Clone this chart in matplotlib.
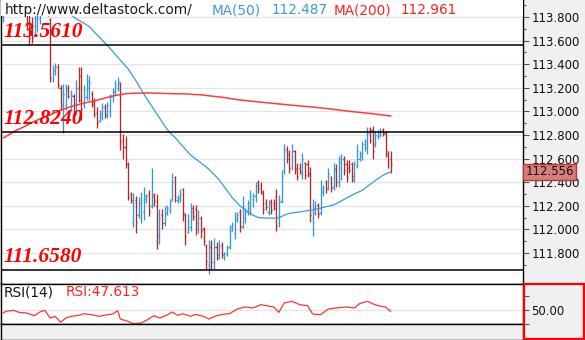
import matplotlib
matplotlib.use("Agg")
import matplotlib.pyplot as plt
from matplotlib.collections import LineCollection
from matplotlib.patches import Rectangle
from matplotlib.transforms import blended_transform_factory, offset_copy

W, H, DPI = 585, 340, 100

# ---- OHLC bars -------------------------------------------------------------
opens = [113.80, 113.90, 113.95, 113.92, 113.98, 114.02, 113.96, 113.93, 113.97, 113.88,
         113.76, 113.74, 113.64, 113.72, 113.78, 113.86, 113.94, 113.88, 113.78, 113.27,
         113.34, 113.38, 113.20, 112.90, 113.05, 113.20, 113.02, 113.13, 113.00, 113.20,
         113.30, 113.05, 113.12, 113.20, 113.15, 113.08, 112.99, 112.92, 112.95, 113.04,
         112.97, 113.00, 113.13, 113.16, 113.20, 113.24, 112.76, 112.70, 112.55, 112.30,
         112.05, 112.25, 112.12, 112.10, 112.15, 112.26, 112.30, 112.20, 112.29, 112.20,
         111.95, 112.12, 112.05, 112.13, 112.16, 112.26, 112.44, 112.25, 112.26, 112.34,
         112.12, 111.98, 112.02, 112.18, 112.17, 112.00, 112.10, 112.00, 111.86, 111.70,
         111.85, 111.72, 111.85, 111.76, 111.87, 111.78, 111.79, 111.85, 112.02, 111.97,
         112.08, 112.15, 112.02, 112.10, 112.15, 112.18, 112.26, 112.28, 112.40, 112.38,
         112.30, 112.22, 112.15, 112.24, 112.22, 112.28, 112.05, 112.24, 112.50, 112.68,
         112.64, 112.53, 112.66, 112.52, 112.52, 112.46, 112.56, 112.55, 112.48, 112.10,
         112.14, 112.21, 112.14, 112.32, 112.40, 112.35, 112.44, 112.36, 112.52, 112.40,
         112.52, 112.60, 112.55, 112.52, 112.55, 112.42, 112.54, 112.60, 112.62, 112.72,
         112.70, 112.85, 112.84, 112.72, 112.79, 112.80, 112.84, 112.82, 112.64, 112.60]
highs = [113.95, 114.00, 114.05, 114.02, 114.08, 114.10, 114.05, 114.02, 114.04, 113.95,
         113.90, 113.80, 113.86, 113.84, 113.92, 113.98, 114.00, 113.95, 113.79, 113.39,
         113.41, 113.40, 113.22, 113.23, 113.23, 113.22, 113.18, 113.15, 113.27, 113.38,
         113.38, 113.22, 113.32, 113.30, 113.17, 113.11, 113.04, 113.01, 113.07, 113.06,
         113.08, 113.15, 113.20, 113.27, 113.29, 113.25, 112.81, 112.79, 112.57, 112.32,
         112.31, 112.28, 112.27, 112.32, 112.36, 112.30, 112.33, 112.52, 112.31, 112.30,
         112.17, 112.17, 112.20, 112.21, 112.26, 112.48, 112.45, 112.29, 112.34, 112.35,
         112.14, 112.13, 112.22, 112.21, 112.21, 112.16, 112.11, 112.02, 111.88, 111.91,
         111.91, 111.93, 111.89, 111.91, 111.89, 111.81, 111.87, 112.04, 112.06, 112.15,
         112.15, 112.17, 112.28, 112.18, 112.25, 112.33, 112.31, 112.40, 112.42, 112.40,
         112.33, 112.26, 112.25, 112.26, 112.26, 112.34, 112.29, 112.50, 112.72, 112.71,
         112.67, 112.72, 112.67, 112.56, 112.56, 112.65, 112.57, 112.59, 112.53, 112.26,
         112.24, 112.22, 112.42, 112.38, 112.42, 112.52, 112.45, 112.56, 112.55, 112.62,
         112.64, 112.62, 112.59, 112.59, 112.57, 112.58, 112.72, 112.66, 112.75, 112.77,
         112.87, 112.87, 112.88, 112.83, 112.84, 112.86, 112.86, 112.83, 112.66, 112.66]
lows = [113.76, 113.84, 113.88, 113.85, 113.90, 113.92, 113.88, 113.86, 113.83, 113.69,
        113.56, 113.58, 113.64, 113.67, 113.74, 113.82, 113.82, 113.81, 113.25, 113.25,
        113.31, 113.20, 113.01, 112.82, 113.01, 113.11, 113.00, 112.95, 112.97, 113.08,
        112.93, 113.03, 113.10, 113.10, 113.04, 112.95, 112.86, 112.91, 112.93, 112.94,
        112.94, 112.95, 113.08, 113.14, 113.17, 112.67, 112.60, 112.52, 112.25, 112.22,
        112.02, 111.97, 112.10, 112.05, 112.08, 112.22, 112.11, 112.18, 112.20, 111.83,
        111.88, 112.00, 112.03, 112.12, 112.14, 112.24, 112.23, 112.22, 112.23, 112.07,
        111.87, 111.97, 111.99, 112.08, 111.95, 111.97, 111.93, 111.87, 111.66, 111.62,
        111.66, 111.66, 111.74, 111.75, 111.76, 111.74, 111.77, 111.83, 111.99, 111.92,
        112.06, 111.98, 112.01, 112.05, 112.12, 112.12, 112.19, 112.23, 112.31, 112.30,
        112.13, 112.16, 112.12, 112.13, 112.16, 111.99, 112.02, 112.22, 112.47, 112.56,
        112.48, 112.50, 112.47, 112.42, 112.47, 112.43, 112.43, 112.44, 112.06, 111.94,
        112.12, 112.10, 112.12, 112.28, 112.31, 112.33, 112.32, 112.33, 112.36, 112.36,
        112.42, 112.46, 112.40, 112.48, 112.40, 112.40, 112.52, 112.58, 112.59, 112.66,
        112.64, 112.73, 112.60, 112.70, 112.77, 112.78, 112.79, 112.61, 112.52, 112.48]
closes = [113.90, 113.95, 113.92, 113.98, 114.02, 113.96, 113.93, 113.97, 113.88, 113.74,
          113.62, 113.62, 113.78, 113.80, 113.88, 113.94, 113.86, 113.82, 113.28, 113.36,
          113.38, 113.22, 113.05, 113.15, 113.18, 113.13, 113.14, 112.99, 113.20, 113.10,
          113.02, 113.18, 113.26, 113.24, 113.06, 112.98, 112.90, 112.98, 113.04, 112.97,
          113.05, 113.12, 113.17, 113.22, 113.26, 112.74, 112.70, 112.55, 112.27, 112.25,
          112.22, 112.06, 112.22, 112.25, 112.29, 112.28, 112.15, 112.27, 112.24, 111.95,
          112.10, 112.05, 112.15, 112.18, 112.24, 112.40, 112.27, 112.27, 112.30, 112.14,
          111.94, 112.07, 112.15, 112.11, 112.05, 112.10, 111.99, 111.90, 111.73, 111.85,
          111.72, 111.85, 111.78, 111.86, 111.79, 111.80, 111.84, 111.99, 112.04, 112.10,
          112.12, 112.03, 112.20, 112.15, 112.22, 112.28, 112.29, 112.37, 112.35, 112.32,
          112.17, 112.19, 112.22, 112.16, 112.18, 112.03, 112.23, 112.45, 112.67, 112.60,
          112.52, 112.66, 112.50, 112.45, 112.49, 112.60, 112.46, 112.47, 112.12, 112.18,
          112.20, 112.13, 112.33, 112.36, 112.34, 112.47, 112.35, 112.50, 112.40, 112.57,
          112.60, 112.50, 112.44, 112.50, 112.45, 112.55, 112.66, 112.64, 112.72, 112.75,
          112.82, 112.76, 112.66, 112.80, 112.82, 112.83, 112.81, 112.66, 112.57, 112.556]

# ---- moving averages (bar index, value) ------------------------------------
ma50_idx = [18, 20, 22, 24, 26, 28, 30, 33, 36, 40, 44, 48, 51, 54, 56, 59, 62, 64,
            66, 68, 70, 72, 75, 78, 80, 83, 86, 88, 91, 94, 96, 98, 100, 102, 104, 106,
            108, 110, 112, 114, 116, 119, 123, 127, 130, 132, 135, 138, 141, 145, 147, 149]
ma50_val = [114.02, 113.95, 113.90, 113.86, 113.82, 113.785, 113.76, 113.72, 113.65,
            113.56, 113.46, 113.36, 113.26, 113.15, 113.08, 112.98, 112.88, 112.82,
            112.78, 112.73, 112.68, 112.63, 112.58, 112.53, 112.49, 112.42, 112.33,
            112.27, 112.20, 112.15, 112.12, 112.10, 112.097, 112.095, 112.095, 112.097,
            112.12, 112.135, 112.142, 112.147, 112.155, 112.164, 112.185, 112.207,
            112.24, 112.266, 112.30, 112.33, 112.38, 112.444, 112.47, 112.487]
ma200_idx = [0, 2, 5, 8, 11, 14, 18, 22, 26, 30, 37, 42, 47, 53, 58, 65, 70, 76, 84,
             91, 98, 106, 112, 119, 126, 132, 140, 149]
ma200_val = [112.775, 112.80, 112.84, 112.87, 112.905, 112.935, 112.97, 113.01, 113.04,
             113.065, 113.10, 113.13, 113.15, 113.156, 113.155, 113.15, 113.148, 113.14,
             113.12, 113.097, 113.08, 113.063, 113.05, 113.037, 113.02, 113.003, 112.985,
             112.961]

# ---- RSI(14) (bar index, value) ----------------------------------------------
rsi_idx = [0, 1, 4, 6, 9, 12, 14, 16, 18, 20, 22, 24, 26, 29, 31, 34, 37, 40, 42, 44,
           45, 48, 50, 53, 55, 58, 60, 63, 65, 67, 69, 72, 74, 77, 79, 82, 85, 87, 90,
           93, 96, 99, 101, 104, 106, 108, 111, 114, 117, 119, 122, 125, 128, 132, 135,
           137, 140, 142, 144, 147, 149]
rsi_val = [45.3, 47.7, 49.1, 46.2, 45.3, 41.5, 46.7, 49.1, 38.1, 40.5, 32.0, 38.1, 40.5,
           42.0, 44.3, 42.9, 40.5, 42.9, 43.8, 48.6, 36.7, 33.4, 30.0, 31.0, 34.8, 41.5,
           38.1, 42.4, 46.7, 42.0, 44.3, 40.5, 43.3, 40.5, 36.7, 41.5, 43.8, 44.3, 51.0,
           53.9, 52.4, 57.2, 55.8, 53.9, 46.2, 59.6, 62.0, 57.2, 55.8, 43.8, 42.9, 51.0,
           52.4, 53.9, 52.4, 58.6, 62.0, 58.6, 55.8, 53.9, 47.613]

levels = [113.561, 112.824, 111.658]
level_labels = ["113.5610", "112.8240", "111.6580"]
price_ticks = [111.8, 112.0, 112.2, 112.4, 112.6, 112.8, 113.0, 113.2, 113.4, 113.6, 113.8]
price_minor = [111.7, 111.9, 112.1, 112.3, 112.5, 112.7, 112.9, 113.1, 113.3, 113.5, 113.7, 113.9]
last_price = 112.556
ma50_last, ma200_last, rsi_last = 112.487, 112.961, 47.613

UP = "#3399d6"
DOWN = "#b02a2a"
MA50_C = "#3a9ad9"
RED = "#ff2020"
BG = "#f0f0f0"
FS = 9.8


def px_rect(x0, y0, x1, y1):
    return [x0 / W, 1 - y1 / H, (x1 - x0) / W, (y1 - y0) / H]


fig = plt.figure(figsize=(W / DPI, H / DPI), dpi=DPI, facecolor=BG)
ax = fig.add_axes(px_rect(1, 0, 523, 283.5))
ax_rsi = fig.add_axes(px_rect(1, 283.5, 523, 324))
ax_time = fig.add_axes(px_rect(1, 324, 523, 339.5))

XL = (-0.885, 199.88)
for a in (ax, ax_rsi, ax_time):
    a.set_xlim(*XL)
    a.set_xticks([])
    for s in a.spines.values():
        s.set_color("black")
        s.set_linewidth(1.0)
ax_time.set_facecolor(BG)
ax_time.set_yticks([])

# ---- price panel -------------------------------------------------------------
ax.set_ylim(111.541, 113.944)
for t in price_ticks:
    ax.axhline(t, color="#e4e4e4", lw=0.9, zorder=0)

segs, cols = [], []
for i, (o, h, l, c) in enumerate(zip(opens, highs, lows, closes)):
    col = UP if c >= o else DOWN
    segs += [[(i, l), (i, h)], [(i - 0.45, o), (i, o)], [(i, c), (i + 0.45, c)]]
    cols += [col] * 3
ax.add_collection(LineCollection(segs, colors=cols, linewidths=0.95, zorder=2))

ax.plot(ma50_idx, ma50_val, color=MA50_C, lw=0.9, zorder=3)
ax.plot(ma200_idx, ma200_val, color="#ff3b3b", lw=1.1, zorder=3)

blend = blended_transform_factory(ax.transAxes, ax.transData)
lbl_tr = offset_copy(blend, fig=fig, x=0, y=3, units="dots")
for lv, lab in zip(levels, level_labels):
    ax.axhline(lv, color="black", lw=1.1, zorder=3)
    ax.text(0.004, lv, lab, transform=lbl_tr, ha="left", va="bottom",
            fontsize=15.5, fontfamily="Liberation Serif", fontweight="bold",
            fontstyle="italic", color="#ff0000", zorder=5)

# header strip
ax.axhspan(113.805, 115.0, facecolor="white", edgecolor="none", zorder=4)
ty = 1 - 10 / H
fig.text(5 / W, ty, "http://www.deltastock.com/", fontsize=FS, color="#1a1a1a", va="center")
fig.text(212 / W, ty, "MA(50)", fontsize=FS, color=MA50_C, va="center")
fig.text(272 / W, ty, f"{ma50_last:.3f}", fontsize=FS, color=MA50_C, va="center")
fig.text(334 / W, ty, "MA(200)", fontsize=FS, color=RED, va="center")
fig.text(401 / W, ty, f"{ma200_last:.3f}", fontsize=FS, color=RED, va="center")

ax.yaxis.tick_right()
ax.set_yticks(price_ticks)
ax.set_yticklabels([f"{t:.3f}" for t in price_ticks])
ax.set_yticks(price_minor, minor=True)
ax.tick_params(axis="y", which="major", direction="out", length=4, width=0.8,
               color="#555555", labelsize=8.5, labelcolor="#111111", pad=2)
ax.tick_params(axis="y", which="minor", direction="out", length=2.5, width=0.8,
               color="#555555")

# last price marker: tag hangs just below the last close level
tag_tr = offset_copy(blend, fig=fig, x=0, y=-16, units="dots")
ax.add_patch(Rectangle((1.0, last_price), 53 / 522, 16 / 118, transform=tag_tr,
                       facecolor="#d97d7a", edgecolor="#b33a3a", lw=1.0,
                       clip_on=False, zorder=6))
txt_tr = offset_copy(blend, fig=fig, x=0, y=-8, units="dots")
ax.text(1.0 + 27 / 522, last_price, f"{last_price:.3f}", transform=txt_tr, ha="center",
        va="center", fontsize=8.5, color="#111111", clip_on=False, zorder=7)

# ---- RSI panel ---------------------------------------------------------------
ax_rsi.set_ylim(29.6, 87.4)
ax_rsi.axhline(50, color="#e4e4e4", lw=0.9, zorder=0)
ax_rsi.plot(rsi_idx, rsi_val, color="#ff3333", lw=0.9, zorder=2)
ax_rsi.yaxis.tick_right()
ax_rsi.set_yticks([30, 50, 70])
ax_rsi.set_yticklabels(["", "50.00", ""])
ax_rsi.tick_params(axis="y", direction="out", length=4, width=0.8, color="#555555",
                   labelsize=8.5, labelcolor="#111111", pad=2)
ry = 1 - 292 / H
fig.text(4 / W, ry, "RSI(14)", fontsize=FS, color="#111111", va="center")
fig.text(66 / W, ry, f"RSI:{rsi_last:.3f}", fontsize=FS, color=RED, va="center")

fig.add_artist(Rectangle((523.5 / W, 1 - 338.5 / H), 60.5 / W, 55 / H,
                         transform=fig.transFigure, fill=False, edgecolor="#ff0000",
                         lw=1.6))

fig.savefig("out.png", dpi=DPI, facecolor=BG)
